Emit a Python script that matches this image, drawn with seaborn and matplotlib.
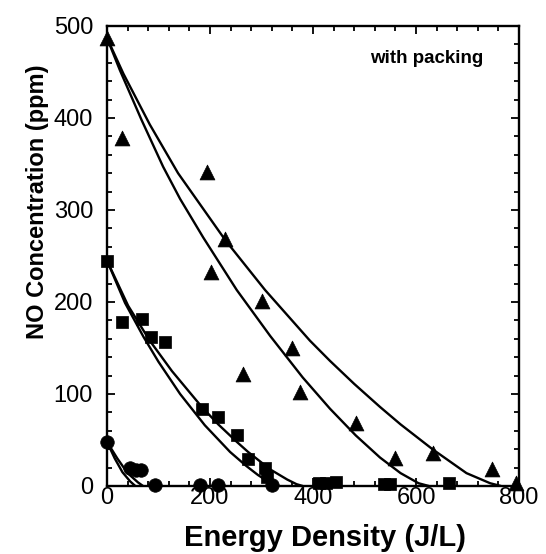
import matplotlib
matplotlib.use("Agg")
import matplotlib.pyplot as plt
import seaborn as sns
import pandas as pd
from matplotlib.ticker import MultipleLocator

# ---- data ----
# measured points (Energy Density J/L, NO ppm)
tri_x = [0, 29, 194, 202, 229, 265, 301, 359, 375, 483, 559, 633, 747, 794]
tri_y = [487, 378, 341, 233, 268, 122, 201, 150, 102, 68, 30, 36, 18, 3]

sq_x = [0, 30, 67, 85, 113, 184, 216, 252, 274, 307, 310, 412, 425, 445, 537, 550, 665]
sq_y = [245, 178, 181, 162, 156, 84, 75, 55, 29, 20, 10, 3, 3, 4, 2, 2, 3]

ci_x = [0, 45, 56, 66, 93, 181, 216, 320]
ci_y = [48, 20, 17, 17, 1, 1, 1, 1]

# fitted curves (read as points along each line)
c500a_x = [0, 25, 67, 109, 142, 187, 252, 317, 380, 433, 483, 530, 570, 605, 625]
c500a_y = [487, 452, 398, 347, 312, 270, 213, 163, 118, 84, 55, 31, 14, 3, 0]
c500b_x = [0, 32, 83, 138, 230, 307, 394, 433, 480, 530, 570, 632, 698, 744, 765]
c500b_y = [487, 448, 393, 340, 267, 213, 158, 136, 111, 86, 67, 40, 14, 3, 0]

c250a_x = [0, 35, 71, 100, 142, 190, 239, 270, 293, 315, 332]
c250a_y = [245, 199, 162, 135, 100, 66, 37, 22, 12, 4, 0]
c250b_x = [0, 41, 83, 126, 184, 216, 252, 274, 317, 350, 368, 380]
c250b_y = [245, 196, 158, 125, 86, 67, 48, 37, 18, 7, 2, 0]

c50a_x = [0, 15, 30, 45, 55]
c50a_y = [48, 30, 15, 5, 0]
c50b_x = [0, 20, 40, 60, 70]
c50b_y = [48, 30, 14, 4, 0]

x_ticks = [0, 200, 400, 600, 800]
y_ticks = [0, 100, 200, 300, 400, 500]

# ---- figure ----
sns.set_style("ticks")
plt.rcParams['font.family'] = ['Liberation Sans', 'DejaVu Sans']
for k in ["text.color", "axes.labelcolor", "xtick.color", "ytick.color", "axes.edgecolor"]:
    plt.rcParams[k] = "black"

fig = plt.figure(figsize=(5.46, 5.54), dpi=100)
ax = fig.add_axes([107/546, 1-486/554, (519-107)/546, (486-26)/554])

curves = [(c500a_x, c500a_y), (c500b_x, c500b_y),
          (c250a_x, c250a_y), (c250b_x, c250b_y),
          (c50a_x, c50a_y), (c50b_x, c50b_y)]
for cx, cy in curves:
    df = pd.DataFrame({"E": cx, "NO": cy})
    sns.lineplot(data=df, x="E", y="NO", ax=ax, color="black", lw=1.7,
                 sort=False, estimator=None)

pts = [(tri_x, tri_y, "^", 115), (sq_x, sq_y, "s", 75), (ci_x, ci_y, "o", 95)]
for px, py, m, s in pts:
    df = pd.DataFrame({"E": px, "NO": py})
    sns.scatterplot(data=df, x="E", y="NO", ax=ax, marker=m, s=s,
                    color="black", edgecolor="black", linewidth=0.5,
                    clip_on=False, zorder=5)

ax.set_xlim(0, 800)
ax.set_ylim(0, 500)
ax.set_xticks(x_ticks)
ax.set_yticks(y_ticks)
ax.xaxis.set_minor_locator(MultipleLocator(40))
ax.yaxis.set_minor_locator(MultipleLocator(20))
ax.tick_params(which="both", direction="in", top=True, right=True, width=1.3)
ax.tick_params(which="major", length=6, labelsize=17)
ax.tick_params(axis="x", which="major", pad=1)
ax.tick_params(axis="y", which="major", pad=10)
ax.tick_params(which="minor", length=3.5)
for sp in ax.spines.values():
    sp.set_linewidth(1.7)

ax.set_xlabel("Energy Density (J/L)", fontsize=21, fontweight="bold")
ax.set_ylabel("NO Concentration (ppm)", fontsize=17, fontweight="bold")
ax.xaxis.set_label_coords(0.529, -0.083)
ax.yaxis.set_label_coords(-0.14, 0.617)

ax.text(511, 465, "with packing", fontsize=13.5, fontweight="bold", va="center", ha="left")

fig.savefig("out.png", dpi=100)
